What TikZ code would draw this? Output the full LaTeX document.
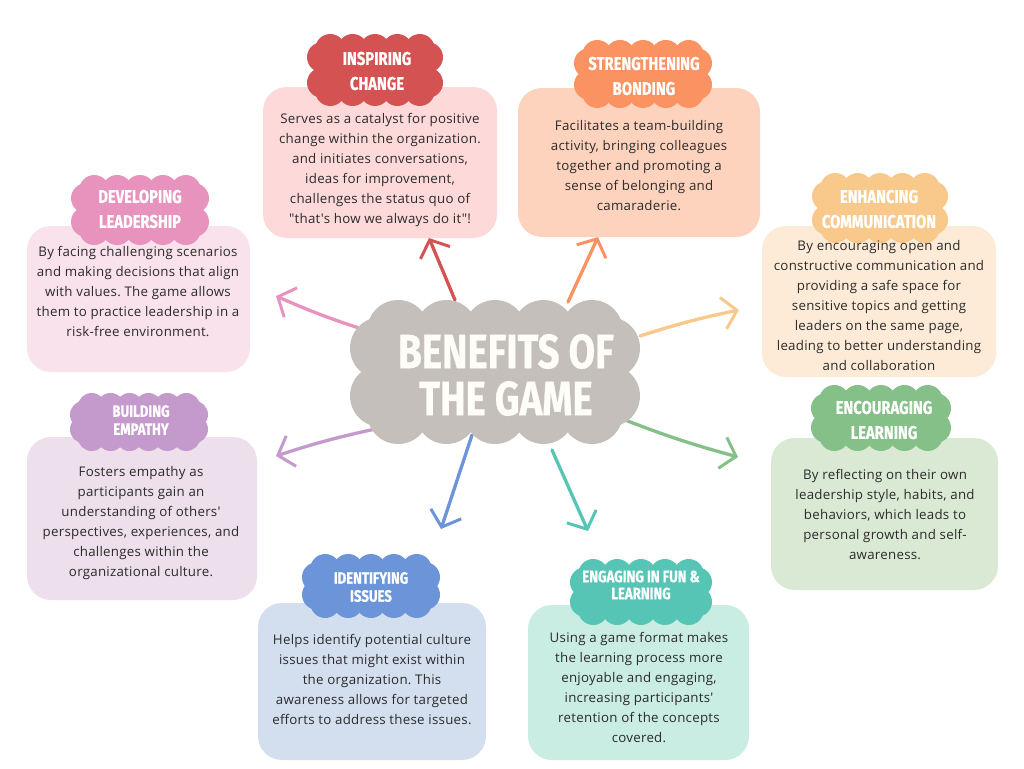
\documentclass[tikz,border=0pt]{standalone}
\usepackage{fontspec}
\usetikzlibrary{arrows.meta}
\frenchspacing
\newfontfamily\bodyfont[LetterSpace=2]{Open Sans}
\newfontfamily\headfont[FakeStretch=0.8,FakeBold=0.6]{Fira Sans}
\definecolor{cRed}{HTML}{D55253}\definecolor{bRed}{HTML}{FDD9D9}
\definecolor{cOra}{HTML}{FB9262}\definecolor{bOra}{HTML}{FED3BE}
\definecolor{cPin}{HTML}{E893BD}\definecolor{bPin}{HTML}{F9E2EB}
\definecolor{cYel}{HTML}{F8C98B}\definecolor{bYel}{HTML}{FDEBD7}
\definecolor{cPur}{HTML}{C49ACD}\definecolor{bPur}{HTML}{EDDFEB}
\definecolor{cGre}{HTML}{84C087}\definecolor{bGre}{HTML}{DAE9D4}
\definecolor{cBlu}{HTML}{6B95D8}\definecolor{bBlu}{HTML}{D3DEEF}
\definecolor{cTea}{HTML}{56C5B5}\definecolor{bTea}{HTML}{C9ECE3}
\definecolor{cGry}{HTML}{C4BFBA}\definecolor{tTit}{HTML}{FFFDF7}
\definecolor{tBody}{HTML}{2B2B2B}
\newcommand{\scallop}[6]{%
  \pgfmathsetmacro{\sxa}{#1-#3+#5}%
  \pgfmathsetmacro{\sxb}{#1+#3-#5}%
  \pgfmathsetmacro{\sya}{#2-#4+#5}%
  \pgfmathsetmacro{\syb}{#2+#4-#5}%
  \pgfmathsetmacro{\sd}{0.55*#5}%
  \pgfmathtruncatemacro{\snx}{max(1,round((\sxb-\sxa-2*\sd)/(1.5*#5)))}%
  \pgfmathtruncatemacro{\sny}{max(1,round((\syb-\sya-2*\sd)/(1.5*#5)))}%
  \fill[#6] (\sxa,\sya) rectangle (\sxb,\syb);
  \foreach \i in {0,...,\snx}{\fill[#6] ({\sxa+\sd+\i*(\sxb-\sxa-2*\sd)/\snx},\sya) circle[radius=#5pt] ({\sxa+\sd+\i*(\sxb-\sxa-2*\sd)/\snx},\syb) circle[radius=#5pt];}
  \foreach \j in {0,...,\sny}{\fill[#6] (\sxa,{\sya+\sd+\j*(\syb-\sya-2*\sd)/\sny}) circle[radius=#5pt] (\sxb,{\sya+\sd+\j*(\syb-\sya-2*\sd)/\sny}) circle[radius=#5pt];}
}
\begin{document}
\begin{tikzpicture}[x=1pt,y=-1pt,
  box/.style={rounded corners=24pt},
  body/.style={text=tBody,align=center,font=\bodyfont\fontsize{13.3}{20}\selectfont,inner sep=0pt},
  head/.style={text=white,align=center,font=\headfont\bfseries\fontsize{18.5}{25}\selectfont,inner sep=0pt},
  arr/.style={line width=3.3pt,line cap=round,-{Straight Barb[length=14pt,width=32pt,line width=3pt]}}]
\fill[white] (0,0) rectangle (1024,768);
\useasboundingbox (0,0) rectangle (1024,768);
% boxes
\fill[box,bRed] (263,87) rectangle (497,238);
\fill[box,bOra] (518,88) rectangle (760,237);
\fill[box,bPin] (27,226) rectangle (250,372);
\fill[box,bYel] (762,226) rectangle (996,377);
\fill[box,bPur] (27,437) rectangle (257,600);
\fill[box,bGre] (771,438) rectangle (998,590);
\fill[box,bBlu] (258,603) rectangle (486,760);
\fill[box,bTea] (528,605) rectangle (749,760);
% arrow coordinates
\coordinate (s1) at (455,300); \coordinate (t1) at (429,238);
\coordinate (s2) at (568,302); \coordinate (t2) at (598,237);
\coordinate (s3) at (365,330); \coordinate (t3) at (276,296);
\coordinate (s4) at (640,336); \coordinate (t4) at (739,310);
\coordinate (s5) at (380,428); \coordinate (t5) at (276,456);
\coordinate (s6) at (620,418); \coordinate (t6) at (738,457);
\coordinate (s7) at (472,435); \coordinate (t7) at (441,529);
\coordinate (s8) at (552,450); \coordinate (t8) at (588,531);
\draw[arr,cRed] (s1) -- (t1);
\draw[arr,cOra] (s2) -- (t2);
\draw[arr,cPin] (s3) to[bend left=3] (t3);
\draw[arr,cYel] (s4) to[bend left=3] (t4);
\draw[arr,cPur] (s5) to[bend right=3] (t5);
\draw[arr,cGre] (s6) to[bend right=3] (t6);
\draw[arr,cBlu] (s7) -- (t7);
\draw[arr,cTea] (s8) -- (t8);
% central cloud
\scallop{495}{372}{145}{72}{31}{cGry}
\node[text=tTit,align=center,font=\headfont\bfseries\fontsize{48}{47}\selectfont,inner sep=0pt] (center) at (506,375) {BENEFITS OF\\THE GAME};
% label clouds
\scallop{375}{70}{68}{36}{15}{cRed}
\scallop{643}{74}{69}{34}{15}{cOra}
\scallop{140}{210}{69}{35}{15}{cPin}
\scallop{880}{208}{68}{35}{15}{cYel}
\scallop{139}{422}{69}{29}{14}{cPur}
\scallop{881}{418}{70}{33}{15}{cGre}
\scallop{371}{586}{69}{32}{15}{cBlu}
\scallop{641}{592}{71}{33}{15}{cTea}
\node[head] (h1) at (377,71) {INSPIRING\\CHANGE};
\node[head] (h2) at (644,76) {STRENGTHENING\\BONDING};
\node[head] (h3) at (140,209) {DEVELOPING\\LEADERSHIP};
\node[head] (h4) at (879,209) {ENHANCING\\COMMUNICATION};
\node[head,font=\headfont\bfseries\fontsize{16.5}{18}\selectfont] (h5) at (141,420) {BUILDING\\EMPATHY};
\node[head] (h6) at (884,420) {ENCOURAGING\\LEARNING};
\node[head,font=\headfont\bfseries\fontsize{16.5}{18}\selectfont] (h7) at (371,587) {IDENTIFYING\\ISSUES};
\node[head,font=\headfont\bfseries\fontsize{16.5}{17}\selectfont] (h8) at (641,585) {ENGAGING IN FUN \&\\LEARNING};
% body texts
\node[body] (b1) at (380,170) {Serves as a catalyst for positive\\change within the organization.\\and initiates conversations,\\ideas for improvement,\\challenges the status quo of\\"that's how we always do it"!};
\node[body] (b2) at (639,166) {Facilitates a team-building\\activity, bringing colleagues\\together and promoting a\\sense of belonging and\\camaraderie.};
\node[body] (b3) at (138,292) {By facing challenging scenarios\\and making decisions that align\\with values. The game allows\\them to practice leadership in a\\risk-free environment.};
\node[body] (b4) at (879,306) {By encouraging open and\\constructive communication and\\providing a safe space for\\sensitive topics and getting\\leaders on the same page,\\leading to better understanding\\and collaboration};
\node[body] (b5) at (141,523) {Fosters empathy as\\participants gain an\\understanding of others'\\perspectives, experiences, and\\challenges within the\\organizational culture.};
\node[body] (b6) at (885,514) {By reflecting on their own\\leadership style, habits, and\\behaviors, which leads to\\personal growth and self-\\awareness.};
\node[body] (b7) at (372,679) {Helps identify potential culture\\issues that might exist within\\the organization. This\\awareness allows for targeted\\efforts to address these issues.};
\node[body] (b8) at (639,687) {Using a game format makes\\the learning process more\\enjoyable and engaging,\\increasing participants'\\retention of the concepts\\covered.};
\end{tikzpicture}
\end{document}
